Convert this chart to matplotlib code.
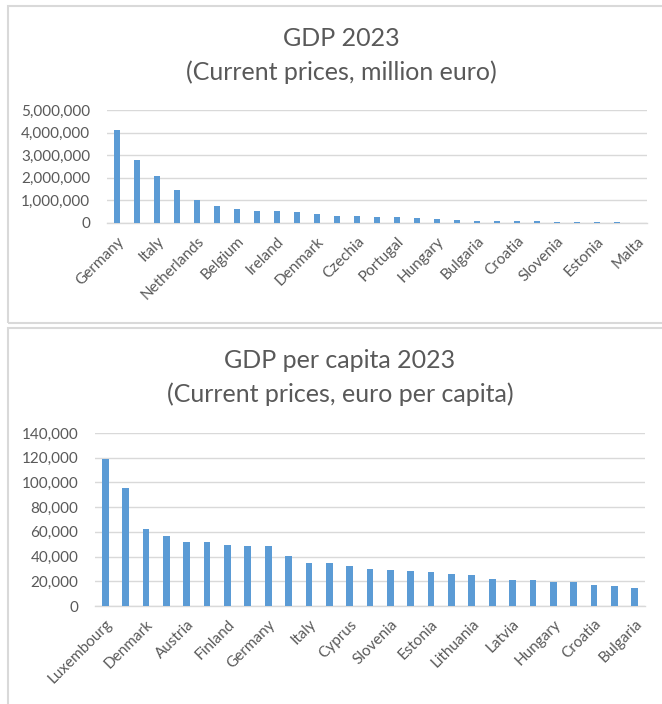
import numpy as np
import matplotlib.pyplot as plt
from matplotlib.patches import Rectangle
from matplotlib.ticker import FuncFormatter

plt.rcParams['font.family'] = ['Lato', 'DejaVu Sans']

#%% data
gdp_countries = ['Germany', 'France', 'Italy', 'Spain', 'Netherlands', 'Poland', 'Belgium',
                 'Sweden', 'Ireland', 'Austria', 'Denmark', 'Romania', 'Czechia', 'Finland',
                 'Portugal', 'Greece', 'Hungary', 'Slovakia', 'Bulgaria', 'Luxembourg',
                 'Croatia', 'Lithuania', 'Slovenia', 'Latvia', 'Estonia', 'Cyprus', 'Malta']
gdp_values = [4121000, 2803000, 2085000, 1462000, 1033000, 750000, 601000,
              541000, 510000, 477000, 377000, 324000, 305000, 277000,
              266000, 220000, 197000, 122000, 94000, 79000,
              76000, 72000, 63000, 40000, 38000, 31000, 20000]

pc_countries = ['Luxembourg', 'Ireland', 'Denmark', 'Netherlands', 'Austria', 'Sweden',
                'Finland', 'Belgium', 'Germany', 'France', 'Italy', 'Malta', 'Cyprus',
                'Spain', 'Slovenia', 'Czechia', 'Estonia', 'Portugal', 'Lithuania',
                'Slovakia', 'Latvia', 'Poland', 'Hungary', 'Greece', 'Croatia',
                'Romania', 'Bulgaria']
pc_values = [118700, 95300, 62700, 56800, 51400, 51400, 49500, 48500, 48500, 40100,
             34500, 34500, 32200, 30300, 29200, 28400, 27600, 25700, 24700, 22000,
             20900, 20900, 19800, 19300, 17200, 16100, 14500]

#%% style
BAR = '#5B9BD5'
TXT = '#595959'
GRID = '#D9D9D9'
W, H = 662, 704

fig = plt.figure(figsize=(W / 100, H / 100), dpi=100)

# panel borders
for (x0, y0, x1, y1) in [(8, 6, 670, 323), (8, 328, 670, 712)]:
    fig.patches.append(Rectangle((x0 / W, 1 - y1 / H), (x1 - x0) / W, (y1 - y0) / H,
                                 transform=fig.transFigure, fill=False,
                                 edgecolor='#D9D9D9', linewidth=1.5))

fmt = FuncFormatter(lambda v, p: f'{int(v):,}')


def bar_panel(rect, names, vals, ymax, step):
    ax = fig.add_axes(rect)
    x = np.arange(len(names))
    ax.bar(x, vals, width=0.33, color=BAR, zorder=3)
    ax.set_xlim(-0.5, len(names) - 0.5)
    ax.set_ylim(0, ymax)
    ax.set_yticks(np.arange(0, ymax + 1, step))
    ax.yaxis.set_major_formatter(fmt)
    ax.grid(axis='y', color=GRID, linewidth=1, zorder=0)
    for s in ['top', 'right', 'left']:
        ax.spines[s].set_visible(False)
    ax.spines['bottom'].set_color(GRID)
    ax.spines['bottom'].set_linewidth(1)
    ax.set_xticks(x[::2])
    ax.set_xticklabels(names[::2], rotation=45, ha='right', rotation_mode='anchor')
    ax.tick_params(axis='both', length=0, colors=TXT, labelsize=11)
    ax.tick_params(axis='x', pad=8)
    ax.tick_params(axis='y', pad=12)
    return ax


#%% top: GDP
ax1 = bar_panel([107 / W, 1 - 223 / H, 540 / W, 113 / H], gdp_countries, gdp_values,
                5000000, 1000000)
fig.text(341 / W, 1 - 39 / H, 'GDP 2023', ha='center', va='center', fontsize=18, color=TXT)
fig.text(341 / W, 1 - 72 / H, '(Current prices, million euro)', ha='center', va='center',
         fontsize=18, color=TXT)

#%% bottom: GDP per capita
ax2 = bar_panel([95 / W, 1 - 606 / H, 550 / W, 173 / H], pc_countries, pc_values,
                140000, 20000)
fig.text(340 / W, 1 - 360 / H, 'GDP per capita 2023', ha='center', va='center',
         fontsize=18, color=TXT)
fig.text(340 / W, 1 - 394 / H, '(Current prices, euro per capita)', ha='center',
         va='center', fontsize=18, color=TXT)

fig.savefig('out.png', dpi=100)
